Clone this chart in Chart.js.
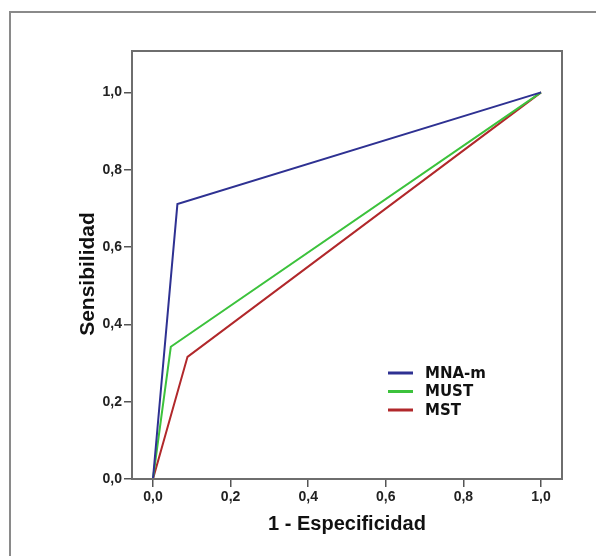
<!DOCTYPE html>
<html>
<head>
<meta charset="utf-8">
<script src="https://cdn.jsdelivr.net/npm/chart.js@4.4.1/dist/chart.umd.min.js"></script>
<style>
  html, body { margin: 0; padding: 0; background: #fff; overflow: hidden; }
  #wrap { position: relative; width: 596px; height: 556px; }
  #frame { position: absolute; left: 9px; top: 11px; width: 700px; height: 700px; border: 2px solid #8a8a8a; }
  canvas { position: absolute; left: 0; top: 0; }
</style>
</head>
<body>
<div id="wrap">
  <div id="frame"></div>
  <canvas id="rocChart" width="596" height="556"></canvas>
</div>
<script>
// ROC curves: 1 - especificidad (x) vs sensibilidad (y)
const seriesNames = ['MNA-m', 'MUST', 'MST'];
const seriesColors = ['#2e3192', '#3cc23c', '#b1282b'];
const mnaX = [0, 0.063, 1];
const mnaY = [0, 0.711, 1];
const mustX = [0, 0.046, 1];
const mustY = [0, 0.342, 1];
const mstX = [0, 0.089, 1];
const mstY = [0, 0.316, 1];
const xTicks = [0, 0.2, 0.4, 0.6, 0.8, 1.0];
const yTicks = [0, 0.2, 0.4, 0.6, 0.8, 1.0];

function pts(xs, ys) {
  return xs.map((x, i) => ({ x: x, y: ys[i] }));
}
function fmt(v) {
  return v.toFixed(1).replace('.', ',');
}

const allX = [mnaX, mustX, mstX];
const allY = [mnaY, mustY, mstY];

// box around the plot area + legend inside the plot
const boxAndLegend = {
  id: 'boxAndLegend',
  afterDatasetsDraw(chart) {
    const c = chart.ctx;
    const a = chart.chartArea;
    c.save();
    c.strokeStyle = '#6e6e6e';
    c.lineWidth = 2;
    c.strokeRect(a.left, a.top, a.right - a.left, a.bottom - a.top);

    // legend
    const lx = a.left + 256;
    const ly = a.top + 322;
    c.font = 'bold 15px "DejaVu Sans"';
    c.textBaseline = 'middle';
    chart.data.datasets.forEach((ds, i) => {
      const y = ly + i * 18.5;
      c.strokeStyle = ds.borderColor;
      c.lineWidth = 3;
      c.beginPath();
      c.moveTo(lx, y);
      c.lineTo(lx + 25, y);
      c.stroke();
      c.fillStyle = '#111';
      c.fillText(ds.label, lx + 37, y + 1);
    });

    // y axis title
    c.translate(a.left - 44, (a.top + a.bottom) / 2 + 9);
    c.rotate(-Math.PI / 2);
    c.font = 'bold 21px "Liberation Sans"';
    c.textAlign = 'center';
    c.fillStyle = '#111';
    c.fillText('Sensibilidad', 0, 0);
    c.restore();
  }
};

const ctx = document.getElementById('rocChart').getContext('2d');

const rocChart = new Chart(ctx, {
  type: 'scatter',
  data: {
    datasets: seriesNames.map((name, i) => ({
      label: name,
      data: pts(allX[i], allY[i]),
      showLine: true,
      borderColor: seriesColors[i],
      backgroundColor: seriesColors[i],
      borderWidth: 2,
      pointRadius: 0,
      tension: 0
    }))
  },
  options: {
    responsive: false,
    animation: false,
    events: [],
    layout: {
      padding: { top: 51, right: 34, left: 72, bottom: 16 }
    },
    plugins: {
      legend: { display: false },
      tooltip: { enabled: false }
    },
    scales: {
      x: {
        type: 'linear',
        min: -0.054,
        max: 1.054,
        afterBuildTicks: (scale) => { scale.ticks = xTicks.map(v => ({ value: v })); },
        afterFit: (scale) => { scale.height = 61; },
        grid: { drawOnChartArea: false, drawTicks: true, tickLength: 8, color: '#555', lineWidth: 1.5 },
        border: { display: false },
        ticks: {
          color: '#222',
          padding: 2,
          maxRotation: 0,
          font: { family: '"Liberation Sans"', size: 14, weight: 'bold' },
          callback: (v) => fmt(v)
        },
        title: {
          display: true,
          text: '1 - Especificidad',
          color: '#111',
          font: { family: '"Liberation Sans"', size: 20, weight: 'bold' },
          padding: { top: 0, bottom: 4 }
        }
      },
      y: {
        type: 'linear',
        min: 0,
        max: 1.107,
        afterBuildTicks: (scale) => { scale.ticks = yTicks.map(v => ({ value: v })); },
        afterFit: (scale) => { scale.width = 60; },
        grid: { drawOnChartArea: false, drawTicks: true, tickLength: 8, color: '#555', lineWidth: 1.5 },
        border: { display: false },
        ticks: {
          color: '#222',
          padding: 2,
          font: { family: '"Liberation Sans"', size: 14, weight: 'bold' },
          callback: (v) => fmt(v)
        },
        title: { display: false }
      }
    }
  },
  plugins: [boxAndLegend]
});
</script>
</body>
</html>
